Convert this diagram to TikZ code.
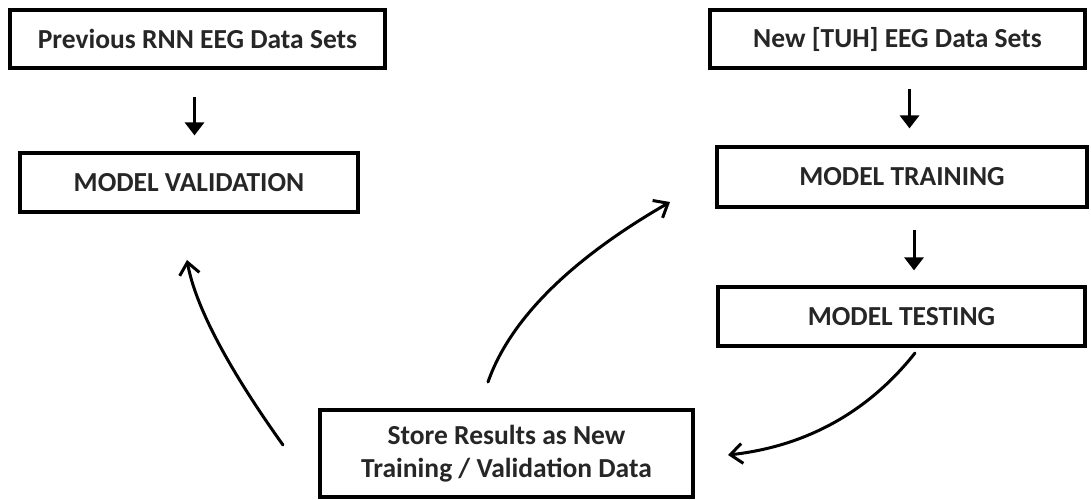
\documentclass[tikz,border=0pt]{standalone}
\usepackage{fontspec}
\setmainfont{Carlito}
\usetikzlibrary{arrows.meta}
\begin{document}
\begin{tikzpicture}[x=1pt,y=-1pt,
  box/.style={draw=black, line width=3.2pt, inner sep=0pt, align=center,
    font=\bfseries\fontsize{27.5}{33}\selectfont, text=black!85},
  varrow/.style={line width=3pt, -{Triangle[length=13pt,width=19pt]}},
  carrow/.style={line width=3pt, line cap=round, -{Straight Barb[length=12pt,width=20pt,line width=3pt]}}]
\useasboundingbox (0,0) rectangle (1091,499);
\node[box, minimum width=375pt, minimum height=58pt] (b1) at (197.5,39) {Previous RNN EEG Data Sets};
\node[box, minimum width=338pt, minimum height=59pt] (b2) at (189,182.5) {MODEL VALIDATION};
\node[box, minimum width=375pt, minimum height=58pt] (b3) at (897.5,39) {New [TUH] EEG Data Sets};
\node[box, minimum width=370pt, minimum height=60pt] (b4) at (902,177) {MODEL TRAINING};
\node[box, minimum width=367pt, minimum height=59pt] (b5) at (901.5,316.5) {MODEL TESTING};
\node[box, minimum width=373pt, minimum height=87pt] (b6) at (506.5,453.5) {Store Results as New\\Training / Validation Data};
\draw[varrow, shorten <=27pt, shorten >=16pt] ([xshift=-3pt]b1.south) -- ([xshift=-3pt]b1.south |- b2.north);
\draw[varrow, shorten <=19pt, shorten >=17pt] ([xshift=12pt]b3.south) -- ([xshift=12pt]b3.south |- b4.north);
\draw[varrow, shorten <=21pt, shorten >=15pt] ([xshift=12pt]b4.south) -- ([xshift=12pt]b4.south |- b5.north);
\coordinate (a1s) at (283,445);
\coordinate (a1e) at (187,260);
\coordinate (a2s) at (488,382);
\coordinate (a2e) at (670,202);
\coordinate (a3s) at (915,353);
\coordinate (a3e) at (728,455);
\draw[carrow] (a1s) .. controls (227,366.7) and (195,305) .. (a1e);
\draw[carrow] (a2s) .. controls (510,319.3) and (570.7,259.3) .. (a2e);
\draw[carrow] (a3s) .. controls (868,412.3) and (805.7,446.3) .. (a3e);
\end{tikzpicture}
\end{document}
